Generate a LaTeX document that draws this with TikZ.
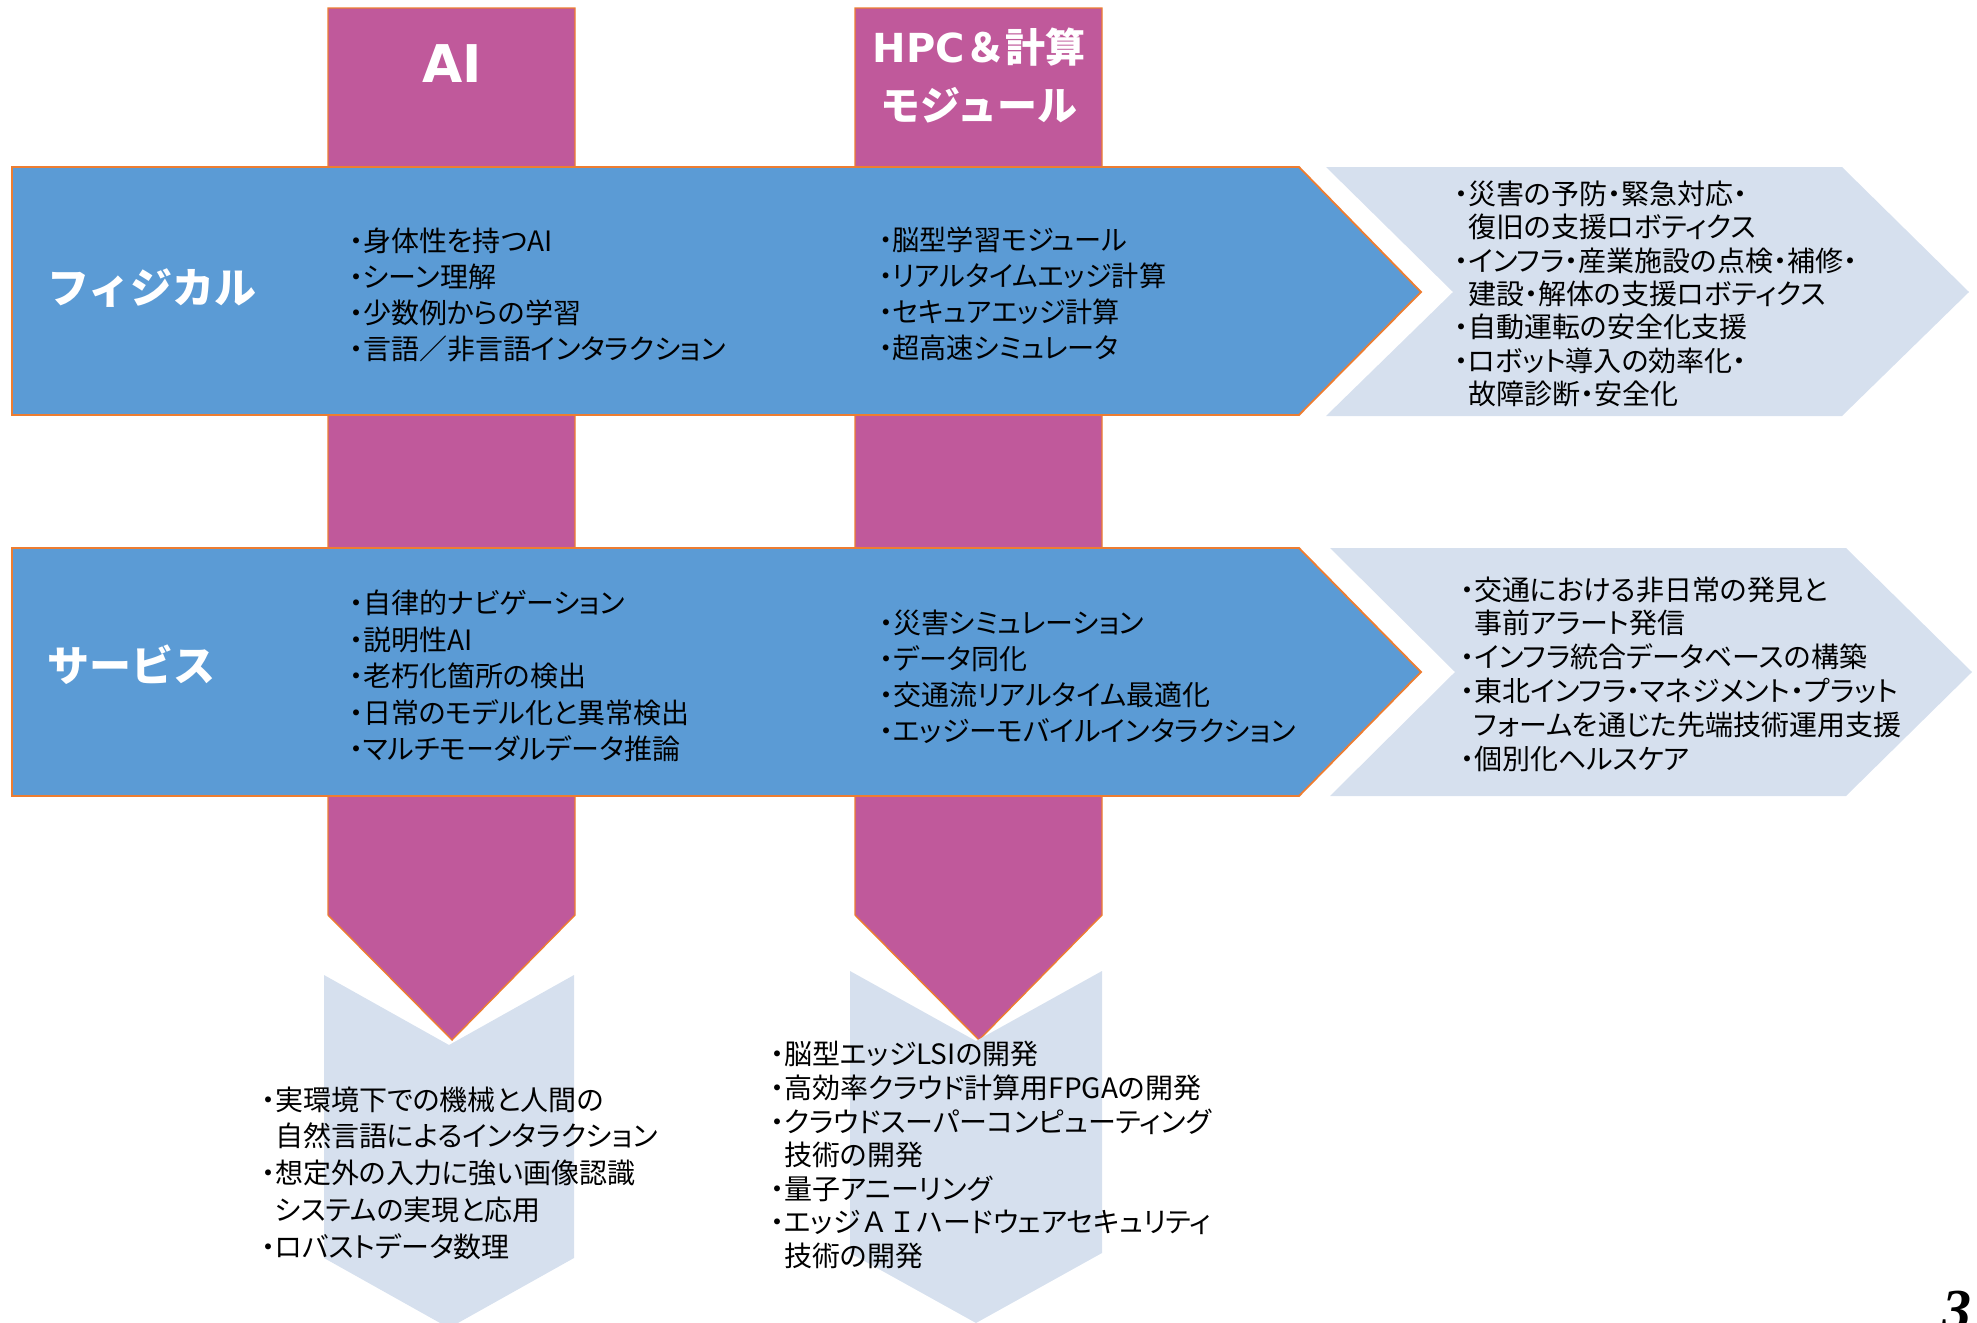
\documentclass[tikz,border=0pt]{standalone}
\usepackage{fontspec}
\newfontfamily\jp{Noto Sans CJK JP}[RawFeature=+palt]
\newfontfamily\jpw{Noto Sans CJK JP}
\newfontfamily\dvs{DejaVu Sans}
\newfontfamily\pnum{Liberation Serif}
\definecolor{bluef}{HTML}{5B9BD5}
\definecolor{purp}{HTML}{C0599B}
\definecolor{lightf}{HTML}{D6E0EE}
\definecolor{orng}{HTML}{ED7D31}
\newcommand\js{\rule[-0.12em]{0pt}{1em}}
\newcommand\ind{\hphantom{・}}
\begin{document}
\begin{tikzpicture}[x=0.5pt,y=-0.5pt,
  txt/.style={inner sep=0pt, outer sep=0pt, align=left, anchor=west, text=black,
    font=\jp\fontsize{14}{#1}\selectfont},
  txt/.default=18,
  head/.style={inner sep=0pt, outer sep=0pt, text=white},
  colfill/.style={fill=purp, draw=orng, line width=0.7pt},
  arrfill/.style={fill=bluef, draw=orng, line width=0.9pt},
  lightfill/.style={fill=lightf}]
\useasboundingbox (0,0) rectangle (1977,1323);
\clip (0,0) rectangle (1977,1323);
% purple columns
\draw[colfill] (328,8) -- (575,8) -- (575,915) -- (452,1040) -- (328,915) -- cycle;
\draw[colfill] (855,8) -- (1102,8) -- (1102,915) -- (979,1040) -- (855,915) -- cycle;
% bottom light chevrons
\fill[lightfill] (324,975) -- (449,1045) -- (574,975) -- (574,1258) -- (449,1328) -- (324,1258) -- cycle;
\fill[lightfill] (850,971) -- (976,1041) -- (1102,971) -- (1102,1253) -- (976,1323) -- (850,1253) -- cycle;
% blue arrows
\draw[arrfill] (12,167) -- (1299,167) -- (1421,292) -- (1299,415) -- (12,415) -- cycle;
\draw[arrfill] (12,548) -- (1299,548) -- (1421,672) -- (1299,796) -- (12,796) -- cycle;
% right light chevrons
\fill[lightfill] (1326,167) -- (1842,167) -- (1969,292) -- (1842,416) -- (1326,416) -- (1453,292) -- cycle;
\fill[lightfill] (1330,548) -- (1846,548) -- (1972,672) -- (1846,796) -- (1330,796) -- (1455,672) -- cycle;
% headers
\node[head, font=\dvs\bfseries\fontsize{26}{26}\selectfont] (hai) at (452,63) {\js AI};
\node[head, align=center, font=\fontsize{20}{29}\selectfont] (hhpc) at (979,76)
  {\js{\dvs\bfseries HPC}{\jpw\bfseries ＆計算}\\\js{\jpw\bfseries モジュール}};
\node[head, anchor=west, font=\jpw\bfseries\fontsize{21}{21}\selectfont] (lphys) at (47,288) {\js フィジカル};
\node[head, anchor=west, font=\jpw\bfseries\fontsize{21}{21}\selectfont] (lserv) at (47,666) {\js サービス};
% physical row texts
\node[txt=18] (pai) at (349,295) {\js・身体性を持つAI\\\js・シーン理解\\\js・少数例からの学習\\\js・言語／非言語インタラクション};
\node[txt=18, xscale=0.97] (phpc) at (879,294) {\js・脳型学習モジュール\\\js・リアルタイムエッジ計算\\\js・セキュアエッジ計算\\\js・超高速シミュレータ};
% service row texts
\node[txt=18.25] (sai) at (349,676) {\js・自律的ナビゲーション\\\js・説明性AI\\\js・老朽化箇所の検出\\\js・日常のモデル化と異常検出\\\js・マルチモーダルデータ推論};
\node[txt=18] (shpc) at (879,677) {\js・災害シミュレーション\\\js・データ同化\\\js・交通流リアルタイム最適化\\\js・エッジーモバイルインタラクション};
% right outcome texts
\node[txt=16.67] (pout) at (1454,294) {\js・災害の予防・緊急対応・\\\js\ind 復旧の支援ロボティクス\\\js・インフラ・産業施設の点検・補修・\\\js\ind 建設・解体の支援ロボティクス\\\js・自動運転の安全化支援\\\js・ロボット導入の効率化・\\\js\ind 故障診断・安全化};
\node[txt=16.9] (sout) at (1460,674) {\js・交通における非日常の発見と\\\js\ind 事前アラート発信\\\js・インフラ統合データベースの構築\\\js・東北インフラ・マネジメント・プラット\\\js\ind フォームを通じた先端技術運用支援\\\js・個別化ヘルスケア};
% bottom outcome texts
\node[txt=18.4] (bai) at (261,1173) {\js・実環境下での機械と人間の\\\js\ind 自然言語によるインタラクション\\\js・想定外の入力に強い画像認識\\\js\ind システムの実現と応用\\\js・ロバストデータ数理};
\node[txt=16.8] (bhpc) at (770,1155) {\js・脳型エッジLSIの開発\\\js・高効率クラウド計算用FPGAの開発\\\js・クラウドスーパーコンピューティング\\\js\ind 技術の開発\\\js・量子アニーリング\\\js・エッジ{\jpw ＡＩ}ハードウェアセキュリティ\\\js\ind 技術の開発};
% page number
\node[inner sep=0pt, anchor=base west, font=\pnum\bfseries\itshape\fontsize{29}{29}\selectfont] (pg) at (1942,1329) {3};
\end{tikzpicture}
\end{document}
